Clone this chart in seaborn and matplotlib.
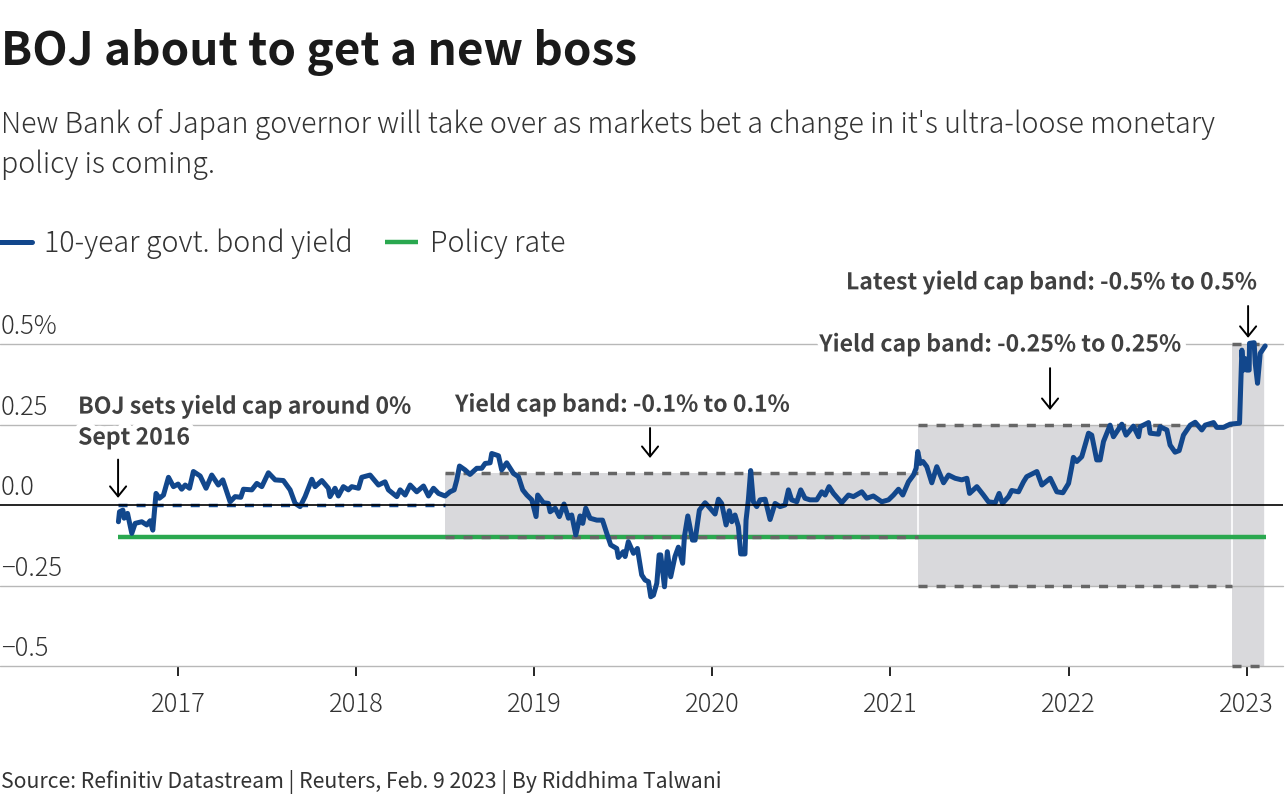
import pandas as pd
import matplotlib.pyplot as plt
import matplotlib.patheffects as pe
from matplotlib.transforms import ScaledTranslation
import seaborn as sns

# 10-year JGB yield (decimal year, %)
yield_years = [
    2016.665, 2016.671, 2016.69, 2016.697, 2016.716, 2016.74, 2016.759, 2016.796, 2016.824, 2016.843,
    2016.858, 2016.876, 2016.895, 2016.918, 2016.946, 2016.974, 2017.0, 2017.02, 2017.04, 2017.064,
    2017.086, 2017.124, 2017.157, 2017.189, 2017.226, 2017.251, 2017.292, 2017.32, 2017.352, 2017.367,
    2017.414, 2017.442, 2017.47, 2017.507, 2017.545, 2017.591, 2017.629, 2017.657, 2017.685, 2017.713,
    2017.751, 2017.769, 2017.807, 2017.844, 2017.853, 2017.881, 2017.9, 2017.928, 2017.956, 2017.975,
    2018.013, 2018.031, 2018.078, 2018.125, 2018.162, 2018.181, 2018.228, 2018.247, 2018.275, 2018.303,
    2018.34, 2018.378, 2018.406, 2018.434, 2018.462, 2018.499, 2018.527, 2018.55, 2018.565, 2018.58,
    2018.611, 2018.639, 2018.677, 2018.705, 2018.724, 2018.752, 2018.761, 2018.799, 2018.817, 2018.845,
    2018.883, 2018.911, 2018.935, 2018.958, 2018.986, 2019.01, 2019.019, 2019.051, 2019.079, 2019.089,
    2019.117, 2019.141, 2019.167, 2019.192, 2019.21, 2019.233, 2019.257, 2019.272, 2019.289, 2019.313,
    2019.351, 2019.383, 2019.407, 2019.429, 2019.463, 2019.472, 2019.5, 2019.51, 2019.528, 2019.557,
    2019.579, 2019.603, 2019.622, 2019.641, 2019.654, 2019.669, 2019.688, 2019.701, 2019.71, 2019.731,
    2019.747, 2019.766, 2019.79, 2019.809, 2019.833, 2019.843, 2019.862, 2019.888, 2019.903, 2019.927,
    2019.959, 2019.987, 2020.015, 2020.034, 2020.052, 2020.077, 2020.095, 2020.109, 2020.127, 2020.146,
    2020.159, 2020.183, 2020.189, 2020.202, 2020.215, 2020.23, 2020.249, 2020.268, 2020.296, 2020.324,
    2020.352, 2020.38, 2020.408, 2020.427, 2020.445, 2020.474, 2020.496, 2020.52, 2020.548, 2020.586,
    2020.614, 2020.633, 2020.655, 2020.68, 2020.726, 2020.764, 2020.792, 2020.839, 2020.867, 2020.904,
    2020.951, 2020.989, 2021.017, 2021.045, 2021.069, 2021.101, 2021.129, 2021.144, 2021.153, 2021.167,
    2021.182, 2021.204, 2021.232, 2021.26, 2021.298, 2021.326, 2021.363, 2021.40, 2021.429, 2021.444,
    2021.485, 2021.522, 2021.55, 2021.588, 2021.61, 2021.629, 2021.663, 2021.681, 2021.719, 2021.747,
    2021.765, 2021.822, 2021.85, 2021.897, 2021.934, 2021.968, 2022.0, 2022.018, 2022.027, 2022.046,
    2022.074, 2022.112, 2022.13, 2022.158, 2022.177, 2022.196, 2022.233, 2022.252, 2022.299, 2022.323,
    2022.364, 2022.393, 2022.402, 2022.449, 2022.458, 2022.505, 2022.514, 2022.552, 2022.57, 2022.598,
    2022.621, 2022.645, 2022.683, 2022.711, 2022.748, 2022.767, 2022.814, 2022.832, 2022.87, 2022.907,
    2022.96, 2022.967, 2022.973, 2022.982, 2022.991, 2023.0, 2023.014, 2023.016, 2023.042, 2023.048,
    2023.061, 2023.076, 2023.104,
]
yield_values = [
    -0.052, -0.021, -0.016, -0.041, -0.026, -0.088, -0.057, -0.052, -0.062, -0.049,
    -0.078, 0.036, 0.021, 0.031, 0.086, 0.057, 0.065, 0.049, 0.062, 0.052,
    0.104, 0.09, 0.052, 0.093, 0.062, 0.078, 0.01, 0.026, 0.024, 0.049,
    0.047, 0.067, 0.057, 0.10, 0.078, 0.076, 0.047, 0.005, -0.005, 0.026,
    0.08, 0.057, 0.076, 0.052, 0.026, 0.052, 0.028, 0.057, 0.047, 0.057,
    0.052, 0.086, 0.093, 0.062, 0.072, 0.047, 0.026, 0.047, 0.031, 0.062,
    0.041, 0.059, 0.028, 0.052, 0.036, 0.028, 0.041, 0.047, 0.078, 0.121,
    0.109, 0.095, 0.114, 0.114, 0.129, 0.131, 0.16, 0.153, 0.109, 0.131,
    0.098, 0.088, 0.047, 0.031, 0.016, -0.036, 0.031, 0.007, 0.005, -0.021,
    -0.01, -0.036, 0.003, -0.041, -0.031, -0.093, -0.034, -0.057, -0.01, -0.041,
    -0.047, -0.047, -0.088, -0.124, -0.135, -0.163, -0.145, -0.16, -0.114, -0.15,
    -0.135, -0.217, -0.233, -0.238, -0.285, -0.28, -0.243, -0.155, -0.155, -0.254,
    -0.145, -0.223, -0.16, -0.131, -0.181, -0.098, -0.034, -0.109, -0.109, -0.016,
    0.007, -0.01, -0.028, 0.018, 0.005, -0.062, -0.018, -0.052, -0.031, -0.067,
    -0.152, -0.152, -0.047, 0.016, 0.107, 0.01, -0.005, 0.016, 0.018, -0.045,
    0.005, -0.005, 0.0, 0.047, 0.016, 0.01, 0.047, 0.021, 0.016, 0.016,
    0.041, 0.031, 0.057, 0.036, 0.007, 0.031, 0.026, 0.041, 0.021, 0.028,
    0.01, 0.016, 0.031, 0.049, 0.031, 0.072, 0.093, 0.114, 0.166, 0.129,
    0.135, 0.119, 0.069, 0.119, 0.069, 0.093, 0.083, 0.078, 0.083, 0.036,
    0.057, 0.031, 0.01, 0.007, 0.036, 0.005, 0.026, 0.045, 0.041, 0.072,
    0.088, 0.104, 0.062, 0.083, 0.041, 0.038, 0.067, 0.119, 0.148, 0.135,
    0.15, 0.223, 0.217, 0.14, 0.14, 0.197, 0.248, 0.212, 0.251, 0.217,
    0.245, 0.212, 0.243, 0.256, 0.223, 0.22, 0.243, 0.233, 0.186, 0.164,
    0.169, 0.217, 0.248, 0.257, 0.233, 0.248, 0.256, 0.241, 0.241, 0.251,
    0.254, 0.378, 0.481, 0.419, 0.455, 0.419, 0.419, 0.502, 0.504, 0.44,
    0.378, 0.471, 0.494,
]

# policy rate
policy_years = [2016.663, 2023.11]
policy_values = [-0.1, -0.1]

# yield cap bands: start, end, low, high
band_starts = [2016.663, 2018.5, 2021.155, 2022.915]
band_ends = [2018.5, 2021.155, 2022.915, 2023.103]
band_lows = [0.0, -0.1, -0.25, -0.5]
band_highs = [0.0, 0.1, 0.25, 0.5]

year_ticks = [2017, 2018, 2019, 2020, 2021, 2022, 2023]
y_ticks = [-0.5, -0.25, 0, 0.25, 0.5]
y_labels = ["\u22120.5", "\u22120.25", "0.0", "0.25", "0.5%"]

title = "BOJ about to get a new boss"
subtitle = "New Bank of Japan governor will take over as markets bet a change in it's ultra-loose monetary\npolicy is coming."
source = "Source: Refinitiv Datastream | Reuters, Feb. 9 2023 | By Riddhima Talwani"

BLUE = "#12478c"
GREEN = "#2aa84f"
DASH = "#666666"
TEXT = "#404040"

sns.set_style("white")
plt.rcParams["font.family"] = ["Noto Sans CJK JP", "DejaVu Sans"]

df_yield = pd.DataFrame({"year": yield_years, "value": yield_values})
df_policy = pd.DataFrame({"year": policy_years, "value": policy_values})

fig = plt.figure(figsize=(12.88, 8), dpi=100)
ax = fig.add_axes([0, 134 / 800, 1283 / 1288, 322 / 800])

# Bande
for start, end, low, high in zip(band_starts, band_ends, band_lows, band_highs):
    if high > low:
        ax.fill_between([start, end], low, high, color="#d9d9dc", lw=0, zorder=1)
        ax.plot([end, end], [low, high], color="white", lw=1.2, zorder=1.5)

for v in y_ticks:
    if v != 0:
        ax.axhline(v, color="#b8b8b8", lw=1, zorder=2, clip_on=False)

sns.lineplot(data=df_policy, x="year", y="value", color=GREEN, lw=3.2, ax=ax, zorder=3,
             label="Policy rate", solid_capstyle="butt")

for i, (start, end, low, high) in enumerate(zip(band_starts, band_ends, band_lows, band_highs)):
    c = BLUE if i == 0 else DASH
    for v in {low, high}:
        ax.plot([start, end], [v, v], color=c, lw=2.5, ls=(0, (2.6, 2.6)), zorder=4, clip_on=False)

sns.lineplot(data=df_yield, x="year", y="value", color=BLUE, lw=3.6, ax=ax, zorder=5,
             label="10-year govt. bond yield", sort=False, estimator=None,
             solid_joinstyle="round", clip_on=False)

ax.axhline(0, color="black", lw=1.2, zorder=6)

ax.set_xlim(2016.0, 2023.204)
ax.set_ylim(-0.5, 0.5)
ax.set_xlabel("")
ax.set_ylabel("")
sns.despine(ax=ax, left=True, bottom=True, top=True, right=True)
ax.patch.set_alpha(0)

ax.set_xticks(year_ticks)
ax.set_xticklabels([str(y) for y in year_ticks], fontweight="light")
ax.tick_params(axis="x", bottom=True, length=7.5, width=1.2, color="black", pad=11, labelsize=18.4, labelcolor="#333333")
ax.set_yticks(y_ticks)
ax.set_yticklabels(y_labels, ha="left", va="center", fontweight="light")
ax.tick_params(axis="y", length=0, pad=0, labelsize=18.4, labelcolor="#333333")
for lab in ax.get_yticklabels():
    lab.set_transform(lab.get_transform() + ScaledTranslation(1 / 100, 17 / 100, fig.dpi_scale_trans))

# Annotazioni (testo con alone bianco)
halo = [pe.withStroke(linewidth=8, foreground="white")]
notes = [
    ("BOJ sets yield cap around 0%", 2016.438, 0.304),
    ("Sept 2016", 2016.438, 0.208),
    ("Yield cap band: -0.1% to 0.1%", 2018.555, 0.31),
    ("Yield cap band: -0.25% to 0.25%", 2020.6, 0.497),
    ("Latest yield cap band: -0.5% to 0.5%", 2020.75, 0.69),
]
for txt, x, y in notes:
    ax.text(x, y, txt, fontsize=16.6, fontweight="bold", color=TEXT, va="center", ha="left",
            zorder=7, path_effects=halo, clip_on=False)

arrows = [
    (2016.663, 0.141, 0.022),
    (2019.65, 0.239, 0.146),
    (2021.896, 0.425, 0.295),
    (2023.008, 0.618, 0.519),
]
for x, y0, y1 in arrows:
    ax.annotate("", xy=(x, y1), xytext=(x, y0), zorder=8, annotation_clip=False,
                arrowprops=dict(arrowstyle="->,head_length=0.72,head_width=0.58", color="black", lw=1.4,
                                shrinkA=0, shrinkB=0, mutation_scale=10))

# Legenda
handles, labels = ax.get_legend_handles_labels()
leg = fig.legend(handles[::-1], labels[::-1], loc="center left", bbox_to_anchor=(-0.001, 1 - 244 / 800), ncol=2,
                 frameon=False, handlelength=1.15, handletextpad=0.42, columnspacing=1.15,
                 labelcolor="#333333", borderpad=0, borderaxespad=0, prop={"weight": "light", "size": 20.6})
ax.get_legend().remove()

fig.text(1 / 1288, 1 - 53 / 800, title, fontsize=33, fontweight="bold", color="#1a1a1a", va="center", ha="left")
fig.text(1 / 1288, 1 - 144 / 800, subtitle, fontsize=20.53, fontweight="light", color="#333333", va="center", ha="left",
         linespacing=1.4)
fig.text(1 / 1288, 1 - 782 / 800, source, fontsize=15.3, color="#333333", va="center", ha="left")

fig.savefig("out.png", dpi=100)
